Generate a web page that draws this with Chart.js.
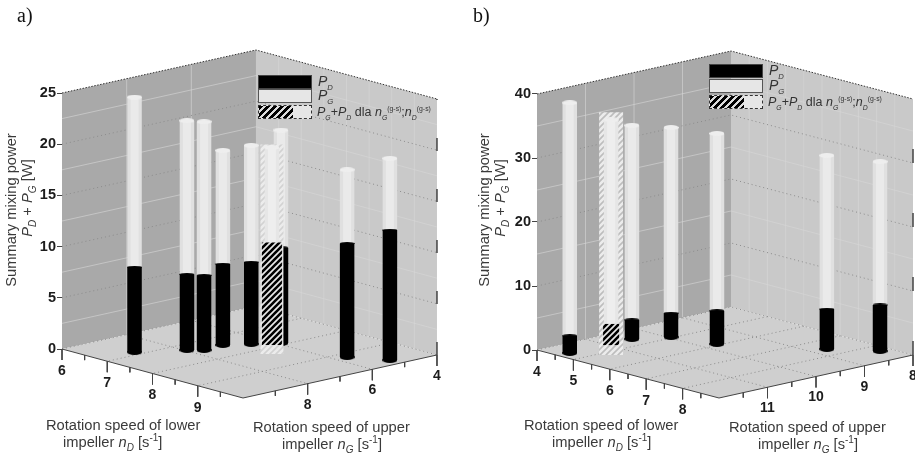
<!DOCTYPE html>
<html>
<head>
<meta charset="utf-8">
<script src="https://cdn.jsdelivr.net/npm/chart.js@4"></script>
<style>
  html, body { margin: 0; padding: 0; background: #fff; }
  #page { position: relative; width: 915px; height: 453px; overflow: hidden; font-family: "Liberation Sans", Arial, sans-serif; color: #3a3a3a; }
  canvas { position: absolute; top: 0; }
  .txt { position: absolute; white-space: nowrap; line-height: 17px; font-size: 14.7px; }
  .panel { font-family: "Liberation Serif", serif; font-size: 20px; color: #111; }
  .rot { transform-origin: 0 0; transform: rotate(-90deg); text-align: center; }
  .txt sub, .txt sup { font-size: 68%; line-height: 0; }
  .sw { position: absolute; box-sizing: border-box; width: 54px; height: 14px; }
  .sw.pd { background: #000; border: 1px solid #444; }
  .sw.pg { background: #e6e6e6; border: 1.5px solid #555; }
  .sw.hx { background: #e6e6e6; border: 1px dashed #333; }
  .sw.hx i { position: absolute; left: 0; top: 0; bottom: 0; width: 34px; background: repeating-linear-gradient(135deg, #000 0 3px, #ddd 3px 5px); }
  .leg { position: absolute; white-space: nowrap; font-size: 12.5px; line-height: 14px; color: #333; }
  .leg.big { font-size: 14px; }
  .leg sub, .leg sup { font-size: 55%; line-height: 0; }
</style>
</head>
<body>
<div id="page">
  <canvas id="chartA" width="457" height="453" style="left:0"></canvas>
  <canvas id="chartB" width="458" height="453" style="left:457px"></canvas>

  <div class="txt panel" style="left:17px;top:7px">a)</div>
  <div class="txt panel" style="left:473px;top:7px">b)</div>

  <div class="txt rot" style="left:3px;top:290px;width:160px">Summary mixing power</div>
  <div class="txt rot" style="left:19px;top:278px;width:160px"><i>P<sub>D</sub></i> + <i>P<sub>G</sub></i> [W]</div>
  <div class="txt rot" style="left:476px;top:290px;width:160px">Summary mixing power</div>
  <div class="txt rot" style="left:492px;top:278px;width:160px"><i>P<sub>D</sub></i> + <i>P<sub>G</sub></i> [W]</div>

  <div class="txt" style="left:46px;top:417px">Rotation speed of lower</div>
  <div class="txt" style="left:63px;top:434px">impeller <i>n<sub>D</sub></i> [s<sup>-1</sup>]</div>
  <div class="txt" style="left:253px;top:419px">Rotation speed of upper</div>
  <div class="txt" style="left:282px;top:436px">impeller <i>n<sub>G</sub></i> [s<sup>-1</sup>]</div>
  <div class="txt" style="left:524px;top:417px">Rotation speed of lower</div>
  <div class="txt" style="left:552px;top:434px">impeller <i>n<sub>D</sub></i> [s<sup>-1</sup>]</div>
  <div class="txt" style="left:729px;top:419px">Rotation speed of upper</div>
  <div class="txt" style="left:758px;top:436px">impeller <i>n<sub>G</sub></i> [s<sup>-1</sup>]</div>

  <div class="sw pd" style="left:258px;top:75px"></div>
  <div class="sw pg" style="left:258px;top:89px"></div>
  <div class="sw hx" style="left:258px;top:105px"><i></i></div>
  <div class="leg big" style="left:318px;top:74px"><i>P<sub>D</sub></i></div>
  <div class="leg big" style="left:318px;top:88px"><i>P<sub>G</sub></i></div>
  <div class="leg" style="left:317px;top:105px"><i>P<sub>G</sub></i>+<i>P<sub>D</sub></i> dla <i>n<sub>G</sub></i><sup>(g-s)</sup>;<i>n<sub>D</sub></i><sup>(g-s)</sup></div>

  <div class="sw pd" style="left:709px;top:64px"></div>
  <div class="sw pg" style="left:709px;top:79px"></div>
  <div class="sw hx" style="left:709px;top:95px"><i></i></div>
  <div class="leg big" style="left:769px;top:63px"><i>P<sub>D</sub></i></div>
  <div class="leg big" style="left:769px;top:78px"><i>P<sub>G</sub></i></div>
  <div class="leg" style="left:768px;top:95px"><i>P<sub>G</sub></i>+<i>P<sub>D</sub></i> dla <i>n<sub>G</sub></i><sup>(g-s)</sup>;<i>n<sub>D</sub></i><sup>(g-s)</sup></div>
</div>

<script>
// panel a) values
const nD_a = [6.86, 7.29, 7.46, 7.42, 7.66, 7.91, 9.20, 9.76, 7.91];
const nG_a = [8.96, 7.94, 7.65, 7.01, 6.47, 5.90, 5.66, 5.12, 6.18];
const PD_a = [8.3, 7.4, 7.3, 7.9, 8.0, 9.3, 11.1, 12.7, 10.0];
const PG_a = [16.6, 15.0, 15.0, 11.1, 11.4, 11.5, 7.2, 7.0, 9.3];
// panel b) values
const nD_b = [4.58, 4.57, 4.95, 5.92, 7.58, 8.36, 4.65];
const nG_b = [11.76, 10.47, 9.95, 9.73, 8.71, 8.20, 10.96];
const PD_b = [2.7, 3.0, 3.75, 5.2, 6.25, 7.2, 3.3];
const PG_b = [36.4, 30.4, 29.0, 27.7, 24.0, 22.4, 31.9];
// last entry of each list is the g-s point (hatched bar)

const powerTicks_a = [0, 5, 10, 15, 20, 25];
const powerTicks_b = [0, 10, 20, 30, 40];
const nDTicks_a = [6, 7, 8, 9];
const nGTicks_a = [4, 6, 8];
const nDTicks_b = [4, 5, 6, 7, 8];
const nGTicks_b = [8, 9, 10, 11];

const viewA = {
  dMin: 6, dMax: 10, gMin: 4, gMax: 10, pMax: 25,
  dxD: 45.25, dxG: 32.33, dyD: 12.25, dyG: -7.17, pxPerW: 10.24,
  xMax: 395, yZero: 349, height: 453, left: 62,
  dStep: 0.5, gStep: 1, gGrid: 2, pStep: 5, edgeDash: [13, 38],
  hatchWidth: 20, frameWidth: 23, frameTop: 3, frameBottom: 9, frameInk: '#d2d2d2'
};
const viewB = {
  dMin: 4, dMax: 9, gMin: 8, gMax: 12, pMax: 40,
  dxD: 36.4, dxG: 48.5, dyD: 9.6, dyG: -10.75, pxPerW: 6.4,
  xMax: 378, yZero: 350, height: 453, left: 80,
  dStep: 0.5, gStep: 0.5, gGrid: 1, pStep: 10, edgeDash: [14, 50],
  hatchWidth: 16, frameWidth: 24, frameTop: 7.5, frameBottom: 10, frameInk: '#bdbdbd'
};

function project(v, d, g, p) {
  const a = d - v.dMin;
  const b = v.gMax - g;
  return { x: a * v.dxD + b * v.dxG, y: p - (a * v.dyD + b * v.dyG) / v.pxPerW };
}

function range(from, to, step) {
  const out = [];
  for (let i = from; i <= to + 1e-6; i += step) out.push(i);
  return out;
}

const GAP = { x: NaN, y: NaN };

function lineDs(data, color, width, dash) {
  return {
    data, showLine: true, borderColor: color, borderWidth: width || 1,
    borderDash: dash || [], pointRadius: 0, clip: false, tension: 0,
    borderCapStyle: 'butt', spanGaps: false
  };
}

function polyDs(points, color) {
  return {
    data: points.concat([points[0]]), showLine: true, borderWidth: 0, borderColor: color,
    backgroundColor: color, fill: 'shape', pointRadius: 0, clip: false, tension: 0
  };
}

function ellipseStyle(w, h, color) {
  const c = document.createElement('canvas');
  c.width = w; c.height = h;
  const ctx = c.getContext('2d');
  ctx.fillStyle = color;
  ctx.beginPath();
  ctx.ellipse(w / 2, h / 2, w / 2, h / 2, 0, 0, Math.PI * 2);
  ctx.fill();
  return c;
}

function capDs(point, w, h, color) {
  return {
    data: [point], showLine: false, pointStyle: ellipseStyle(w, h, color),
    pointRadius: 3, clip: false
  };
}

function hatchPattern(fg, bg, size, lw) {
  const c = document.createElement('canvas');
  c.width = size; c.height = size;
  const ctx = c.getContext('2d');
  ctx.fillStyle = bg;
  ctx.fillRect(0, 0, size, size);
  ctx.strokeStyle = fg;
  ctx.lineWidth = lw;
  ctx.beginPath();
  ctx.moveTo(-1, size + 1); ctx.lineTo(size + 1, -1);
  ctx.moveTo(-1, 1); ctx.lineTo(1, -1);
  ctx.moveTo(size - 1, size + 1); ctx.lineTo(size + 1, size - 1);
  ctx.stroke();
  return ctx.createPattern(c, 'repeat');
}

function wallDatasets(v) {
  const out = [];
  const P = (d, g, p) => project(v, d, g, p);
  // walls and floor
  out.push(polyDs([P(v.dMin, v.gMax, 0), P(v.dMin, v.gMin, 0), P(v.dMin, v.gMin, v.pMax), P(v.dMin, v.gMax, v.pMax)], '#a9a9a9'));
  out.push(polyDs([P(v.dMin, v.gMin, 0), P(v.dMax, v.gMin, 0), P(v.dMax, v.gMin, v.pMax), P(v.dMin, v.gMin, v.pMax)], '#c9c9c9'));
  out.push(polyDs([P(v.dMin, v.gMax, 0), P(v.dMin, v.gMin, 0), P(v.dMax, v.gMin, 0), P(v.dMax, v.gMax, 0)], '#cfcfcf'));

  // faint lines, half way between the labelled values
  const faint = [];
  range(v.pStep / 2, v.pMax, v.pStep).forEach(p => {
    faint.push(P(v.dMin, v.gMax, p), P(v.dMin, v.gMin, p), P(v.dMax, v.gMin, p), GAP);
  });
  range(v.gMin + v.gGrid, v.gMax - 0.01, v.gGrid).forEach(g => {
    faint.push(P(v.dMin, g, 0), P(v.dMin, g, v.pMax), GAP);
  });
  range(v.dMin + v.dStep, v.dMax - 0.01, v.dStep).forEach(d => {
    faint.push(P(d, v.gMin, 0), P(d, v.gMin, v.pMax), GAP);
  });
  out.push(lineDs(faint, 'rgba(215,215,215,0.6)', 1));

  // dotted lines at the labelled values
  const dotted = [];
  range(v.pStep, v.pMax - v.pStep, v.pStep).forEach(p => {
    dotted.push(P(v.dMin, v.gMax, p), P(v.dMin, v.gMin, p), P(v.dMax, v.gMin, p), GAP);
  });
  range(v.dMin + 1, v.dMax - 0.01, 1).forEach(d => {
    dotted.push(P(d, v.gMin, 0), P(d, v.gMax, 0), GAP);
  });
  range(v.gMin + v.gGrid, v.gMax - 0.01, v.gGrid).forEach(g => {
    dotted.push(P(v.dMin, g, 0), P(v.dMax, g, 0), GAP);
  });
  dotted.push(P(v.dMin, v.gMax, 0), P(v.dMin, v.gMin, 0), P(v.dMax, v.gMin, 0), GAP);
  out.push(lineDs(dotted, '#8c8c8c', 1, [1, 3]));

  // top rim of the box
  out.push(lineDs([P(v.dMin, v.gMax, v.pMax), P(v.dMin, v.gMin, v.pMax), P(v.dMax, v.gMin, v.pMax)], '#333', 1, [1.5, 1.5]));
  // right edge
  out.push(lineDs([P(v.dMax, v.gMin, 0), P(v.dMax, v.gMin, v.pMax)], '#444', 1.5, v.edgeDash));

  // base lines with their ticks
  const axis = [P(v.dMin, v.gMax, 0), P(v.dMax, v.gMax, 0), P(v.dMax, v.gMin, 0), GAP];
  range(v.dMin, v.dMax, v.dStep).forEach(d => {
    const base = P(d, v.gMax, 0);
    const major = Number.isInteger(d);
    if (d < v.dMax) axis.push(base, { x: base.x, y: base.y - (major ? 11 : 5) / v.pxPerW }, GAP);
  });
  range(v.gMin, v.gMax, v.gStep).forEach(g => {
    const base = P(v.dMax, g, 0);
    const major = Number.isInteger(g / v.gGrid);
    if (g < v.gMax) axis.push(base, { x: base.x, y: base.y - (major ? 11 : 5) / v.pxPerW }, GAP);
  });
  out.push(lineDs(axis, '#444', 1));
  return out;
}

function barDatasets(v, nD, nG, PD, PG) {
  const out = [];
  const W = 14.5;
  nD.forEach((d, i) => {
    if (i === nD.length - 1) return;
    const base = project(v, d, nG[i], 0);
    const mid = project(v, d, nG[i], PD[i]);
    const top = project(v, d, nG[i], PD[i] + PG[i]);
    out.push(lineDs([mid, top], '#e0e0e0', W));
    out.push(lineDs([mid, top], '#eaeaea', 8));
    out.push(capDs(top, 15, 5, '#eeeeee'));
    out.push(lineDs([base, mid], '#000', W));
    out.push(capDs(base, 15, 6, '#000'));
    out.push(capDs(mid, 15, 3, '#000'));
  });

  // g-s point: pale hatched frame, dashed column, hatched lower part
  const i = nD.length - 1;
  const base = project(v, nD[i], nG[i], 0);
  const mid = project(v, nD[i], nG[i], PD[i]);
  const top = project(v, nD[i], nG[i], PD[i] + PG[i]);
  const low = { x: base.x, y: base.y - v.frameBottom / v.pxPerW };
  const high = { x: top.x, y: top.y + v.frameTop / v.pxPerW };
  out.push(lineDs([low, high], hatchPattern(v.frameInk, '#ececec', 6, 1.6), v.frameWidth));
  out.push(lineDs([mid, top], '#e6e6e6', W));
  out.push(lineDs([mid, top], '#eeeeee', 8));
  out.push(capDs(top, 15, 5, '#eeeeee'));
  out.push(lineDs([base, mid], hatchPattern('#000', '#e8e8e8', 6, 2.6), v.hatchWidth));
  return out;
}

// tick labels of the two floor axes, placed by the scales
const floorLabels = {
  id: 'floorLabels',
  afterDatasetsDraw(chart, args, opts) {
    const { ctx, scales } = chart;
    const v = opts.view;
    ctx.save();
    ctx.font = 'bold 14px "Liberation Sans", Arial, sans-serif';
    ctx.fillStyle = '#1c1c1c';
    ctx.textAlign = 'center';
    ctx.textBaseline = 'middle';
    opts.nD.forEach(d => {
      const p = project(v, d, v.gMax, 0);
      ctx.fillText(d, scales.x.getPixelForValue(p.x), scales.y.getPixelForValue(p.y) + 22);
    });
    opts.nG.forEach(g => {
      const p = project(v, v.dMax, g, 0);
      ctx.fillText(g, scales.x.getPixelForValue(p.x), scales.y.getPixelForValue(p.y) + 21);
    });
    ctx.restore();
  }
};

function buildPanel(id, v, nD, nG, PD, PG, powerTicks, nDTicks, nGTicks) {
  // first dataset is painted last, so the list goes back to front and is flipped
  const datasets = wallDatasets(v).concat(barDatasets(v, nD, nG, PD, PG)).reverse();
  return new Chart(document.getElementById(id), {
    type: 'scatter',
    data: { datasets },
    plugins: [floorLabels],
    options: {
      responsive: false,
      animation: false,
      layout: { padding: 0, autoPadding: false },
      plugins: {
        legend: { display: false },
        tooltip: { enabled: false },
        floorLabels: { view: v, nD: nDTicks, nG: nGTicks }
      },
      scales: {
        x: { type: 'linear', display: false, min: 0, max: v.xMax },
        y: {
          type: 'linear',
          min: (v.yZero - v.height) / v.pxPerW,
          max: v.yZero / v.pxPerW,
          afterFit: s => { s.width = v.left; s.paddingTop = 0; s.paddingBottom = 0; },
          afterBuildTicks: s => { s.ticks = powerTicks.map(value => ({ value })); },
          grid: { drawOnChartArea: false, drawTicks: true, tickLength: 5, color: '#444' },
          border: { display: false },
          ticks: {
            autoSkip: false, padding: 1, color: '#1c1c1c',
            font: { family: '"Liberation Sans", Arial, sans-serif', size: 14.5, weight: 'bold' }
          }
        }
      }
    }
  });
}

buildPanel('chartA', viewA, nD_a, nG_a, PD_a, PG_a, powerTicks_a, nDTicks_a, nGTicks_a);
buildPanel('chartB', viewB, nD_b, nG_b, PD_b, PG_b, powerTicks_b, nDTicks_b, nGTicks_b);
</script>
</body>
</html>
